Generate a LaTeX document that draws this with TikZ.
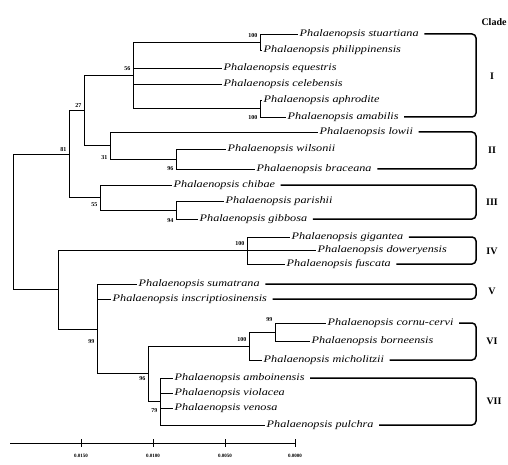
\documentclass[tikz,border=0pt]{standalone}
\usepackage{fontspec}
\setmainfont{Liberation Serif}
\newfontfamily\taxfont[FakeStretch=1.22]{Liberation Serif}
\begin{document}
\begin{tikzpicture}[x=1pt,y=-1pt,
  br/.style={line width=0.8pt},
  taxon/.style={anchor=west,inner sep=1.5pt,font=\taxfont\itshape\fontsize{10}{11}\selectfont},
  boot/.style={anchor=east,inner sep=0.5pt,font=\bfseries\fontsize{6}{6}\selectfont},
  bracket/.style={line width=1.5pt,rounded corners=4pt},
  clade/.style={font=\bfseries\fontsize{10}{11}\selectfont},
  scalelab/.style={font=\bfseries\fontsize{5}{5}\selectfont,inner sep=0.5pt}]
\useasboundingbox (0,0) rectangle (508,465);
% leaves
\node[taxon] (stu) at (298,34) {Phalaenopsis stuartiana};
\node[taxon] (phi) at (262,50) {Phalaenopsis philippinensis};
\node[taxon] (equ) at (222,68) {Phalaenopsis equestris};
\node[taxon] (cel) at (222,84) {Phalaenopsis celebensis};
\node[taxon] (aph) at (262,100) {Phalaenopsis aphrodite};
\node[taxon] (ama) at (286,117) {Phalaenopsis amabilis};
\node[taxon] (low) at (318,132) {Phalaenopsis lowii};
\node[taxon] (wil) at (226,149) {Phalaenopsis wilsonii};
\node[taxon] (bra) at (255,169) {Phalaenopsis braceana};
\node[taxon] (chi) at (172,185) {Phalaenopsis chibae};
\node[taxon] (par) at (224,201) {Phalaenopsis parishii};
\node[taxon] (gib) at (198,219) {Phalaenopsis gibbosa};
\node[taxon] (gig) at (290,237) {Phalaenopsis gigantea};
\node[taxon] (dow) at (316,250.5) {Phalaenopsis doweryensis};
\node[taxon] (fus) at (285,264) {Phalaenopsis fuscata};
\node[taxon] (sum) at (137,284) {Phalaenopsis sumatrana};
\node[taxon] (ins) at (111,299) {Phalaenopsis inscriptiosinensis};
\node[taxon] (cor) at (326,323) {Phalaenopsis cornu-cervi};
\node[taxon] (bor) at (310,341) {Phalaenopsis borneensis};
\node[taxon] (mic) at (262,360) {Phalaenopsis micholitzii};
\node[taxon] (amb) at (173,378) {Phalaenopsis amboinensis};
\node[taxon] (vio) at (173,393) {Phalaenopsis violacea};
\node[taxon] (ven) at (173,408) {Phalaenopsis venosa};
\node[taxon] (pul) at (265,425) {Phalaenopsis pulchra};
% internal nodes
\coordinate (nA) at (260,42);
\coordinate (nB) at (260,108.5);
\coordinate (n56) at (133,75.25);
\coordinate (n96a) at (176,159);
\coordinate (n31) at (110,145.5);
\coordinate (n27) at (84,110.4);
\coordinate (n94) at (176,210);
\coordinate (n55) at (100,197.5);
\coordinate (n81) at (69,154);
\coordinate (n100d) at (247,250.5);
\coordinate (n99f) at (275,332);
\coordinate (n100f) at (249,346);
\coordinate (n79) at (160,401.5);
\coordinate (n96b) at (148,373.75);
\coordinate (n99) at (97,328.9);
\coordinate (nX) at (58,289.7);
\coordinate (root) at (13,221.9);
% branches
\draw[br] (nA) |- (stu.west); \draw[br] (nA) |- (phi.west);
\draw[br] (nB) |- (aph.west); \draw[br] (nB) |- (ama.west);
\draw[br] (n56) |- (nA); \draw[br] (n56) |- (equ.west); \draw[br] (n56) |- (cel.west); \draw[br] (n56) |- (nB);
\draw[br] (n96a) |- (wil.west); \draw[br] (n96a) |- (bra.west);
\draw[br] (n31) |- (low.west); \draw[br] (n31) |- (n96a);
\draw[br] (n27) |- (n56); \draw[br] (n27) |- (n31);
\draw[br] (n94) |- (par.west); \draw[br] (n94) |- (gib.west);
\draw[br] (n55) |- (chi.west); \draw[br] (n55) |- (n94);
\draw[br] (n81) |- (n27); \draw[br] (n81) |- (n55);
\draw[br] (n100d) |- (gig.west); \draw[br] (n100d) |- (dow.west); \draw[br] (n100d) |- (fus.west);
\draw[br] (n99f) |- (cor.west); \draw[br] (n99f) |- (bor.west);
\draw[br] (n100f) |- (n99f); \draw[br] (n100f) |- (mic.west);
\draw[br] (n79) |- (amb.west); \draw[br] (n79) |- (vio.west); \draw[br] (n79) |- (ven.west); \draw[br] (n79) |- (pul.west);
\draw[br] (n96b) |- (n100f); \draw[br] (n96b) |- (n79);
\draw[br] (n99) |- (sum.west); \draw[br] (n99) |- (ins.west); \draw[br] (n99) |- (n96b);
\draw[br] (nX) |- (n100d); \draw[br] (nX) |- (n99);
\draw[br] (root) |- (n81); \draw[br] (root) |- (nX);
% bootstrap values
\node[boot] (bA) at (258,36) {100};
\node[boot] (bB) at (258,118) {100};
\node[boot] (b56) at (131,69) {56};
\node[boot] (b27) at (82,106) {27};
\node[boot] (b81) at (67,150) {81};
\node[boot] (b31) at (108,158) {31};
\node[boot] (b96a) at (174,169) {96};
\node[boot] (b55) at (98,205) {55};
\node[boot] (b94) at (174,221) {94};
\node[boot] (b100d) at (245,244) {100};
\node[boot] (b99) at (95,342) {99};
\node[boot] (b100f) at (247,340) {100};
\node[boot] (b99f) at (273,320) {99};
\node[boot] (b96b) at (146,379) {96};
\node[boot] (b79) at (158,411) {79};
% clade brackets
\coordinate (bx) at (476,0);
\draw[bracket] ([xshift=4pt]stu.east) -- (stu.east -| bx) -- (ama.east -| bx) -- ([xshift=4pt]ama.east);
\draw[bracket] ([xshift=4pt]low.east) -- (low.east -| bx) -- (bra.east -| bx) -- ([xshift=4pt]bra.east);
\draw[bracket] ([xshift=4pt]chi.east) -- (chi.east -| bx) -- (gib.east -| bx) -- ([xshift=4pt]gib.east);
\draw[bracket] ([xshift=4pt]gig.east) -- (gig.east -| bx) -- (fus.east -| bx) -- ([xshift=4pt]fus.east);
\draw[bracket] ([xshift=4pt]sum.east) -- (sum.east -| bx) -- (ins.east -| bx) -- ([xshift=4pt]ins.east);
\draw[bracket] ([xshift=4pt]cor.east) -- (cor.east -| bx) -- (mic.east -| bx) -- ([xshift=4pt]mic.east);
\draw[bracket] ([xshift=4pt]amb.east) -- (amb.east -| bx) -- (pul.east -| bx) -- ([xshift=4pt]pul.east);
\node[clade] (hdr) at (494,22) {Clade};
\node[clade] (cI) at (492,76) {I};
\node[clade] (cII) at (492,150) {II};
\node[clade] (cIII) at (492,202) {III};
\node[clade] (cIV) at (492,251) {IV};
\node[clade] (cV) at (492,291) {V};
\node[clade] (cVI) at (492,341) {VI};
\node[clade] (cVII) at (494,401) {VII};
% scale bar
\draw[br] (10,443) -- (295,443);
\foreach \x in {81,153,225,295} \draw[br] (\x,439) -- (\x,447);
\node[scalelab] (s1) at (81,456) {0.0150};
\node[scalelab] (s2) at (153,456) {0.0100};
\node[scalelab] (s3) at (225,456) {0.0050};
\node[scalelab] (s4) at (295,456) {0.0000};
\end{tikzpicture}
\end{document}
